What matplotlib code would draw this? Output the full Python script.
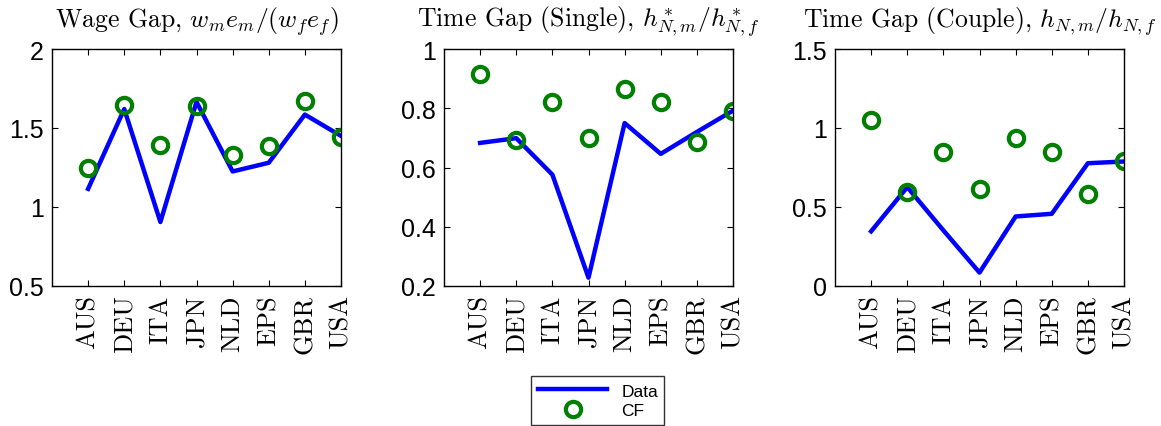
import matplotlib
matplotlib.use('Agg')
import matplotlib.pyplot as plt
import numpy as np

countries = ['AUS', 'DEU', 'ITA', 'JPN', 'NLD', 'EPS', 'GBR', 'USA']

wage_data = [1.115, 1.62, 0.905, 1.665, 1.225, 1.28, 1.585, 1.45]
wage_cf = [1.248, 1.646, 1.393, 1.638, 1.326, 1.389, 1.673, 1.442]

single_data = [0.683, 0.699, 0.576, 0.228, 0.75, 0.646, 0.72, 0.792]
single_cf = [0.916, 0.693, 0.82, 0.699, 0.865, 0.822, 0.685, 0.792]

couple_data = [0.346, 0.626, 0.352, 0.085, 0.44, 0.457, 0.777, 0.788]
couple_cf = [1.053, 0.598, 0.847, 0.611, 0.935, 0.851, 0.584, 0.788]

titles = ['Wage Gap, $w_m e_m/(w_f e_f)$',
          'Time Gap (Single), $h^*_{N,m}/h^*_{N,f}$',
          'Time Gap (Couple), $h_{N,m}/h_{N,f}$']
ylims = [(0.5, 2), (0.2, 1), (0, 1.5)]
yticks = [[0.5, 1, 1.5, 2], [0.2, 0.4, 0.6, 0.8, 1], [0, 0.5, 1, 1.5]]
yticklabels = [['0.5', '1', '1.5', '2'], ['0.2', '0.4', '0.6', '0.8', '1'], ['0', '0.5', '1', '1.5']]

plt.rcParams['mathtext.fontset'] = 'cm'
plt.rcParams['font.family'] = ['Liberation Sans', 'DejaVu Sans']

fig = plt.figure(figsize=(11.61, 4.27), dpi=100)
lefts = [52, 444, 835]
x = np.arange(1, len(countries) + 1)
series = [(wage_data, wage_cf), (single_data, single_cf), (couple_data, couple_cf)]

for i in range(3):
    ax = fig.add_axes([lefts[i] / 1161, 1 - 287 / 427, 289 / 1161, 237 / 427])
    d, cf = series[i]
    l1, = ax.plot(x, d, color=(0, 0, 1), lw=3.2, label='Data')
    l2, = ax.plot(x, cf, 'o', mfc='none', mec=(0, 0.5, 0), mew=3, ms=11, label='CF')
    ax.set_xlim(0, 8)
    ax.set_ylim(*ylims[i])
    ax.set_xticks(x)
    ax.set_xticklabels(countries, rotation=90, family='cmr10', fontsize=19)
    ax.set_yticks(yticks[i])
    ax.set_yticklabels(yticklabels[i], fontsize=18)
    ax.tick_params(direction='in', top=True, right=True, length=4, width=0.8, pad=6)
    ax.set_title(titles[i], family='cmr10', fontsize=18.5, pad=16)
    for s in ax.spines.values():
        s.set_linewidth(1.0)

leg = fig.legend([l1, l2], ['Data', 'CF'], loc='lower left',
                 bbox_to_anchor=(531 / 1161, 1 - 426 / 427, 133 / 1161, 48 / 427),
                 mode='expand', fontsize=12.5, frameon=True, fancybox=False,
                 handlelength=4.0, borderaxespad=0, labelspacing=0.25)
leg.get_frame().set_edgecolor('black')
leg.get_frame().set_linewidth(1.0)

fig.savefig('out.png', dpi=100)
